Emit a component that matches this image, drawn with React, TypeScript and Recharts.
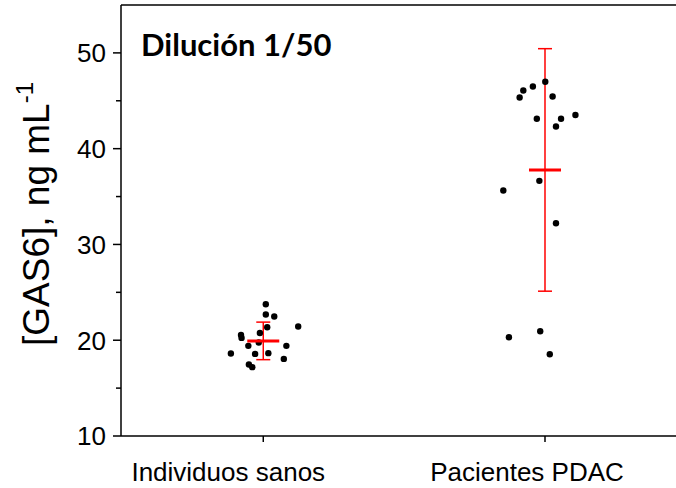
import React from 'react'
import { ScatterChart, Scatter, XAxis, YAxis, ErrorBar, ReferenceLine, Customized } from 'recharts'

const groupNames = ['Individuos sanos', 'Pacientes PDAC']
const groupTicks = [1, 2]

// individual samples, x = jittered group position
const sanosX = [1.009, 1.009, 1.039, 1.014, 1.124, 0.921, 0.923, 0.988, 0.984, 0.947, 1.082, 0.885, 0.971, 1.018, 1.073, 0.949, 0.961]
const sanosY = [23.75, 22.68, 22.47, 21.35, 21.43, 20.55, 20.24, 20.76, 19.76, 19.41, 19.41, 18.61, 18.57, 18.65, 18.05, 17.47, 17.19]
const pdacX = [2.001, 1.957, 1.923, 1.91, 2.027, 1.971, 2.057, 2.039, 2.108, 1.98, 1.852, 2.039, 1.872, 1.983, 2.017]
const pdacY = [46.98, 46.49, 46.07, 45.34, 45.45, 43.13, 43.13, 42.32, 43.51, 36.64, 35.63, 32.22, 20.31, 20.94, 18.54]

const means = [19.93, 37.78]
const sds = [1.96, 12.66]

const yTicks = [10, 15, 20, 25, 30, 35, 40, 45, 50]

const sanos = sanosX.map((x, i) => ({ x, y: sanosY[i] }))
const pdac = pdacX.map((x, i) => ({ x, y: pdacY[i] }))
const meanData = groupTicks.map((x, i) => ({ x, y: means[i], sd: sds[i] }))

const FONT = '"Liberation Sans", Arial, sans-serif'

// category labels sit a bit left of their ticks in the original
const labelShift = [-35, -18]

const Dot = (props: any) => <circle cx={props.cx} cy={props.cy} r={3.2} fill='#000' />

const MeanLine = (props: any) => (
  <line x1={props.cx - 16} x2={props.cx + 16} y1={props.cy} y2={props.cy} stroke='#ff0000' strokeWidth={3} />
)

const YTick = ({ x, y, payload }: any) => {
  const major = payload.value % 10 === 0
  return (
    <g>
      <line x1={x - (major ? 8 : 5)} x2={x} y1={y} y2={y} stroke='#000' strokeWidth={1.5} />
      {major && (
        <text x={x - 15} y={y} dy={9.3} textAnchor='end' fontSize={26} fill='#000' fontFamily={FONT}>
          {payload.value}
        </text>
      )}
    </g>
  )
}

const XTick = ({ x, y, payload }: any) => {
  const i = groupTicks.indexOf(payload.value)
  return (
    <g>
      <line x1={x} x2={x} y1={y} y2={y + 6} stroke='#000' strokeWidth={1.5} />
      <text x={x + labelShift[i]} y={y + 45} textAnchor='middle' fontSize={26} fill='#000' fontFamily={FONT}>
        {groupNames[i]}
      </text>
    </g>
  )
}

const Extras = () => (
  <g>
    <text x={141} y={56} fontSize={31} fontWeight='bold' fontFamily='Lato, sans-serif' fill='#000'>
      Dilución 1/50
    </text>
    <text
      transform='rotate(-90 40 214)'
      x={40}
      y={214}
      dy={9}
      textAnchor='middle'
      fontSize={37}
      fontFamily={FONT}
      fill='#000'
    >
      [GAS6], ng mL<tspan dy={-16} fontSize={24}>-1</tspan>
    </text>
  </g>
)

export default function App() {
  return (
    <div style={{ position: 'absolute', left: 0, top: 0, width: 676, height: 488, background: '#fff', fontFamily: FONT }}>
      <ScatterChart width={676} height={488} margin={{ top: 5, right: 0, bottom: 0, left: 0 }}>
        <XAxis
          type='number'
          dataKey='x'
          domain={[0.495, 2.465]}
          allowDataOverflow
          ticks={groupTicks}
          height={52}
          tickSize={0}
          tickMargin={0}
          tickLine={false}
          stroke='#000'
          strokeWidth={1.5}
          tick={<XTick />}
        />
        <YAxis
          type='number'
          dataKey='y'
          domain={[10, 55]}
          allowDataOverflow
          ticks={yTicks}
          interval={0}
          width={121}
          tickSize={0}
          tickMargin={0}
          tickLine={false}
          stroke='#000'
          strokeWidth={1.5}
          tick={<YTick />}
        />
        <ReferenceLine y={55} stroke='#000' strokeWidth={1.5} ifOverflow='extendDomain' />
        <Scatter data={sanos} shape={<Dot />} isAnimationActive={false} />
        <Scatter data={pdac} shape={<Dot />} isAnimationActive={false} />
        <Scatter data={meanData} shape={<MeanLine />} isAnimationActive={false}>
          <ErrorBar dataKey='sd' direction='y' width={7} stroke='#ff0000' strokeWidth={1.5} />
        </Scatter>
        <Customized component={Extras} />
      </ScatterChart>
    </div>
  )
}
